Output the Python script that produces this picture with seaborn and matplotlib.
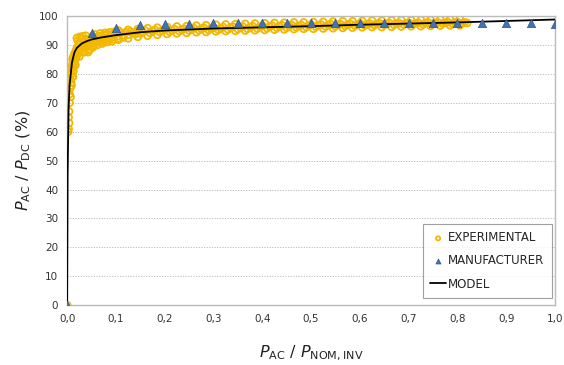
import numpy as np
import pandas as pd
import seaborn as sns
import matplotlib.pyplot as plt

# manufacturer points
man_x = [0.0, 0.05, 0.10, 0.15, 0.20, 0.25, 0.30, 0.35, 0.40, 0.45, 0.50,
         0.55, 0.60, 0.65, 0.70, 0.75, 0.80, 0.85, 0.90, 0.95, 1.00]
man_y = [0.0, 94.0, 96.0, 96.8, 97.2, 97.4, 97.5, 97.5, 97.6, 97.6, 97.6,
         97.6, 97.6, 97.6, 97.6, 97.6, 97.6, 97.6, 97.5, 97.5, 97.3]

# model curve
mod_x = [0.0, 0.001, 0.003, 0.005, 0.01, 0.015, 0.02, 0.03, 0.04, 0.05, 0.07,
         0.10, 0.15, 0.20, 0.30, 0.40, 0.50, 0.60, 0.70, 0.80, 0.90, 1.00]
mod_y = [0.0, 45.0, 68.0, 76.0, 84.0, 87.5, 89.0, 90.5, 91.3, 91.9, 92.6,
         93.4, 94.4, 95.0, 95.7, 96.1, 96.5, 97.0, 97.4, 97.8, 98.3, 98.8]

# experimental measurements
exp_x = [0.0, 0.003, 0.004, 0.004, 0.005, 0.005, 0.006, 0.006, 0.007, 0.008,
         0.008, 0.009, 0.010, 0.011, 0.012, 0.013, 0.014, 0.015, 0.016, 0.018,
         0.019, 0.020, 0.020, 0.022, 0.024, 0.025, 0.027, 0.028, 0.030, 0.031,
         0.033, 0.035, 0.036, 0.038, 0.040, 0.042, 0.044, 0.046, 0.048, 0.050,
         0.052, 0.055, 0.058, 0.060, 0.063, 0.066, 0.070, 0.073, 0.076, 0.080,
         0.083, 0.086, 0.090, 0.095, 0.100, 0.105, 0.110, 0.115, 0.120, 0.125,
         0.130, 0.140, 0.145, 0.150, 0.160, 0.170, 0.180, 0.190, 0.200, 0.210,
         0.220, 0.230, 0.240, 0.250, 0.260, 0.270, 0.280, 0.290, 0.300, 0.310,
         0.320, 0.330, 0.340, 0.350, 0.360, 0.370, 0.380, 0.390, 0.400, 0.410,
         0.420, 0.430, 0.440, 0.450, 0.460, 0.470, 0.480, 0.490, 0.500, 0.510,
         0.520, 0.530, 0.540, 0.550, 0.560, 0.570, 0.580, 0.590, 0.600, 0.610,
         0.620, 0.630, 0.640, 0.650, 0.660, 0.670, 0.680, 0.690, 0.700, 0.710,
         0.720, 0.730, 0.740, 0.750, 0.760, 0.770, 0.780, 0.790, 0.800, 0.810,
         0.820, 0.135, 0.155, 0.175, 0.195, 0.215, 0.235, 0.255, 0.275, 0.295,
         0.315, 0.335, 0.355, 0.375, 0.395, 0.415, 0.435, 0.455, 0.475, 0.495,
         0.515, 0.535, 0.555, 0.575, 0.595, 0.615, 0.635, 0.655, 0.675, 0.695,
         0.715, 0.735, 0.755, 0.775, 0.795, 0.815, 0.065, 0.085, 0.105, 0.025,
         0.035, 0.045, 0.012, 0.017, 0.055, 0.075, 0.095, 0.115,
         # upper edge of the band
         0.305, 0.325, 0.345, 0.365, 0.385, 0.405, 0.425, 0.445, 0.465, 0.485,
         0.505, 0.525, 0.545, 0.565, 0.585, 0.605, 0.625, 0.645, 0.665, 0.685,
         0.705, 0.725, 0.745, 0.765, 0.785, 0.805,
         # lower edge of the band
         0.305, 0.325, 0.345, 0.365, 0.385, 0.405, 0.425, 0.445, 0.465, 0.485,
         0.505, 0.525, 0.545, 0.565, 0.585, 0.605, 0.625, 0.645, 0.665, 0.685,
         0.705, 0.725, 0.745, 0.765, 0.785, 0.805,
         # mid range
         0.105, 0.125, 0.145, 0.165, 0.185, 0.205, 0.225, 0.245, 0.265, 0.285,
         0.105, 0.125, 0.145, 0.165, 0.185, 0.205, 0.225, 0.245, 0.265, 0.285,
         # low range
         0.022, 0.026, 0.032, 0.038, 0.043, 0.047, 0.053, 0.057, 0.062, 0.068,
         0.072, 0.078, 0.082, 0.088, 0.092, 0.098, 0.007, 0.009, 0.011, 0.013,
         0.015, 0.017, 0.003, 0.002]
exp_y = [0.0, 61.0, 63.0, 67.0, 70.0, 73.0, 75.0, 78.0, 80.0, 77.0,
         82.0, 80.0, 83.0, 85.0, 82.0, 86.0, 84.0, 87.0, 85.0, 88.0,
         86.0, 89.0, 92.4, 87.0, 90.0, 88.0, 91.0, 89.0, 92.0, 88.0,
         90.0, 91.0, 89.0, 92.0, 90.0, 91.5, 89.5, 92.0, 90.5, 91.8,
         93.0, 90.8, 92.5, 91.5, 93.0, 92.0, 93.2, 91.8, 93.5, 92.4,
         93.8, 92.6, 93.5, 92.8, 94.0, 93.0, 94.2, 93.3, 94.4, 93.5,
         94.6, 93.8, 94.8, 94.0, 95.0, 94.2, 95.2, 94.5, 95.4, 94.6,
         95.5, 94.8, 95.6, 95.0, 95.8, 95.1, 95.9, 95.2, 96.0, 95.3,
         96.2, 95.4, 96.3, 95.5, 96.4, 95.6, 96.5, 95.7, 96.6, 95.8,
         96.7, 95.9, 96.8, 96.0, 96.9, 96.1, 96.9, 96.2, 97.0, 96.3,
         97.1, 96.4, 97.2, 96.5, 97.2, 96.6, 97.3, 96.7, 97.4, 96.8,
         97.4, 96.9, 97.5, 97.0, 97.6, 97.0, 97.6, 97.1, 97.7, 97.2,
         97.7, 97.2, 97.8, 97.3, 97.8, 97.4, 97.9, 97.4, 97.9, 97.5,
         97.6, 94.2, 94.5, 94.9, 95.0, 95.1, 95.3, 95.5, 95.6, 95.7,
         95.8, 96.0, 96.1, 96.2, 96.3, 96.4, 96.5, 96.6, 96.6, 96.7,
         96.8, 96.9, 97.0, 97.0, 97.1, 97.2, 97.3, 97.3, 97.4, 97.5,
         97.5, 97.6, 97.6, 97.7, 97.7, 97.8, 91.0, 91.6, 92.2, 86.0,
         87.5, 88.2, 79.0, 83.0, 89.8, 91.2, 92.0, 92.6,
         97.0, 97.1, 97.2, 97.3, 97.4, 97.5, 97.6, 97.7, 97.8, 97.8,
         97.9, 98.0, 98.1, 98.2, 98.2, 98.3, 98.4, 98.4, 98.5, 98.6,
         98.6, 98.7, 98.7, 98.8, 98.8, 98.9,
         94.7, 94.8, 94.9, 95.0, 95.1, 95.2, 95.3, 95.4, 95.5, 95.6,
         95.6, 95.7, 95.8, 95.9, 96.0, 96.1, 96.2, 96.2, 96.3, 96.4,
         96.5, 96.5, 96.6, 96.7, 96.8, 96.8,
         95.0, 95.2, 95.5, 95.8, 96.0, 96.2, 96.4, 96.5, 96.7, 96.8,
         91.8, 92.3, 92.8, 93.2, 93.5, 93.8, 94.0, 94.2, 94.4, 94.5,
         91.5, 92.8, 93.0, 93.2, 87.5, 88.5, 89.2, 93.6, 90.0, 94.0,
         90.5, 94.2, 91.0, 94.4, 91.3, 94.6, 72.0, 76.0, 79.0, 81.0,
         83.5, 86.5, 65.0, 60.0]

exp_df = pd.DataFrame({"x": exp_x, "y": exp_y})
man_df = pd.DataFrame({"x": man_x, "y": man_y})
mod_df = pd.DataFrame({"x": mod_x, "y": mod_y})

sns.set_style("white")
plt.rcParams["font.family"] = ["DejaVu Sans"]
plt.rcParams["mathtext.fontset"] = "dejavusans"

fig = plt.figure(figsize=(5.64, 3.65), dpi=100)
ax = fig.add_axes([0.119, 0.164, 0.865, 0.792])

sns.scatterplot(data=exp_df, x="x", y="y", ax=ax, marker="o", s=24,
                facecolors="none", edgecolor="#F2B800", linewidth=1.3,
                label="EXPERIMENTAL", zorder=2)
sns.lineplot(data=mod_df, x="x", y="y", ax=ax, color="black", linewidth=1.3,
             sort=False, label="MODEL", zorder=3)
sns.scatterplot(data=man_df, x="x", y="y", ax=ax, marker="^", s=36,
                color="#4472B0", edgecolor="#2F5597", linewidth=0.5,
                label="MANUFACTURER", zorder=4)

ax.set_xlim(0, 1.0)
ax.set_ylim(0, 100)
ax.set_xticks(np.arange(0, 1.01, 0.1))
ax.set_xticklabels([f"{v:.1f}".replace(".", ",") for v in np.arange(0, 1.01, 0.1)])
ax.set_yticks(range(0, 101, 10))
ax.tick_params(axis="both", labelsize=7.5, labelcolor="#333333", length=3,
               width=0.6, direction="out", color="#999999")
ax.yaxis.grid(True, linestyle=(0, (1.2, 1.5)), color="#BBBBBB", linewidth=0.7)
for sp in ax.spines.values():
    sp.set_color("#BBBBBB")
    sp.set_linewidth(1.0)

ax.set_xlabel(r"$P_{\mathrm{AC}}$ / $P_{\mathrm{NOM,INV}}$", fontsize=11.5,
              color="#222222", labelpad=14)
ax.set_ylabel(r"$P_{\mathrm{AC}}$ / $P_{\mathrm{DC}}$ (%)", fontsize=11.5,
              color="#222222", labelpad=4)

handles, labels = ax.get_legend_handles_labels()
order = [labels.index(n) for n in ["EXPERIMENTAL", "MANUFACTURER", "MODEL"]]
leg = ax.legend([handles[i] for i in order], [labels[i] for i in order],
                loc="lower right", bbox_to_anchor=(0.994, 0.024),
                borderaxespad=0, fontsize=8.5,
                frameon=True, fancybox=False, edgecolor="#888888",
                handlelength=1.3, handletextpad=0.2, borderpad=0.65,
                labelspacing=0.85, markerscale=0.6)
leg.get_frame().set_linewidth(0.8)

fig.savefig("out.png", dpi=100)
